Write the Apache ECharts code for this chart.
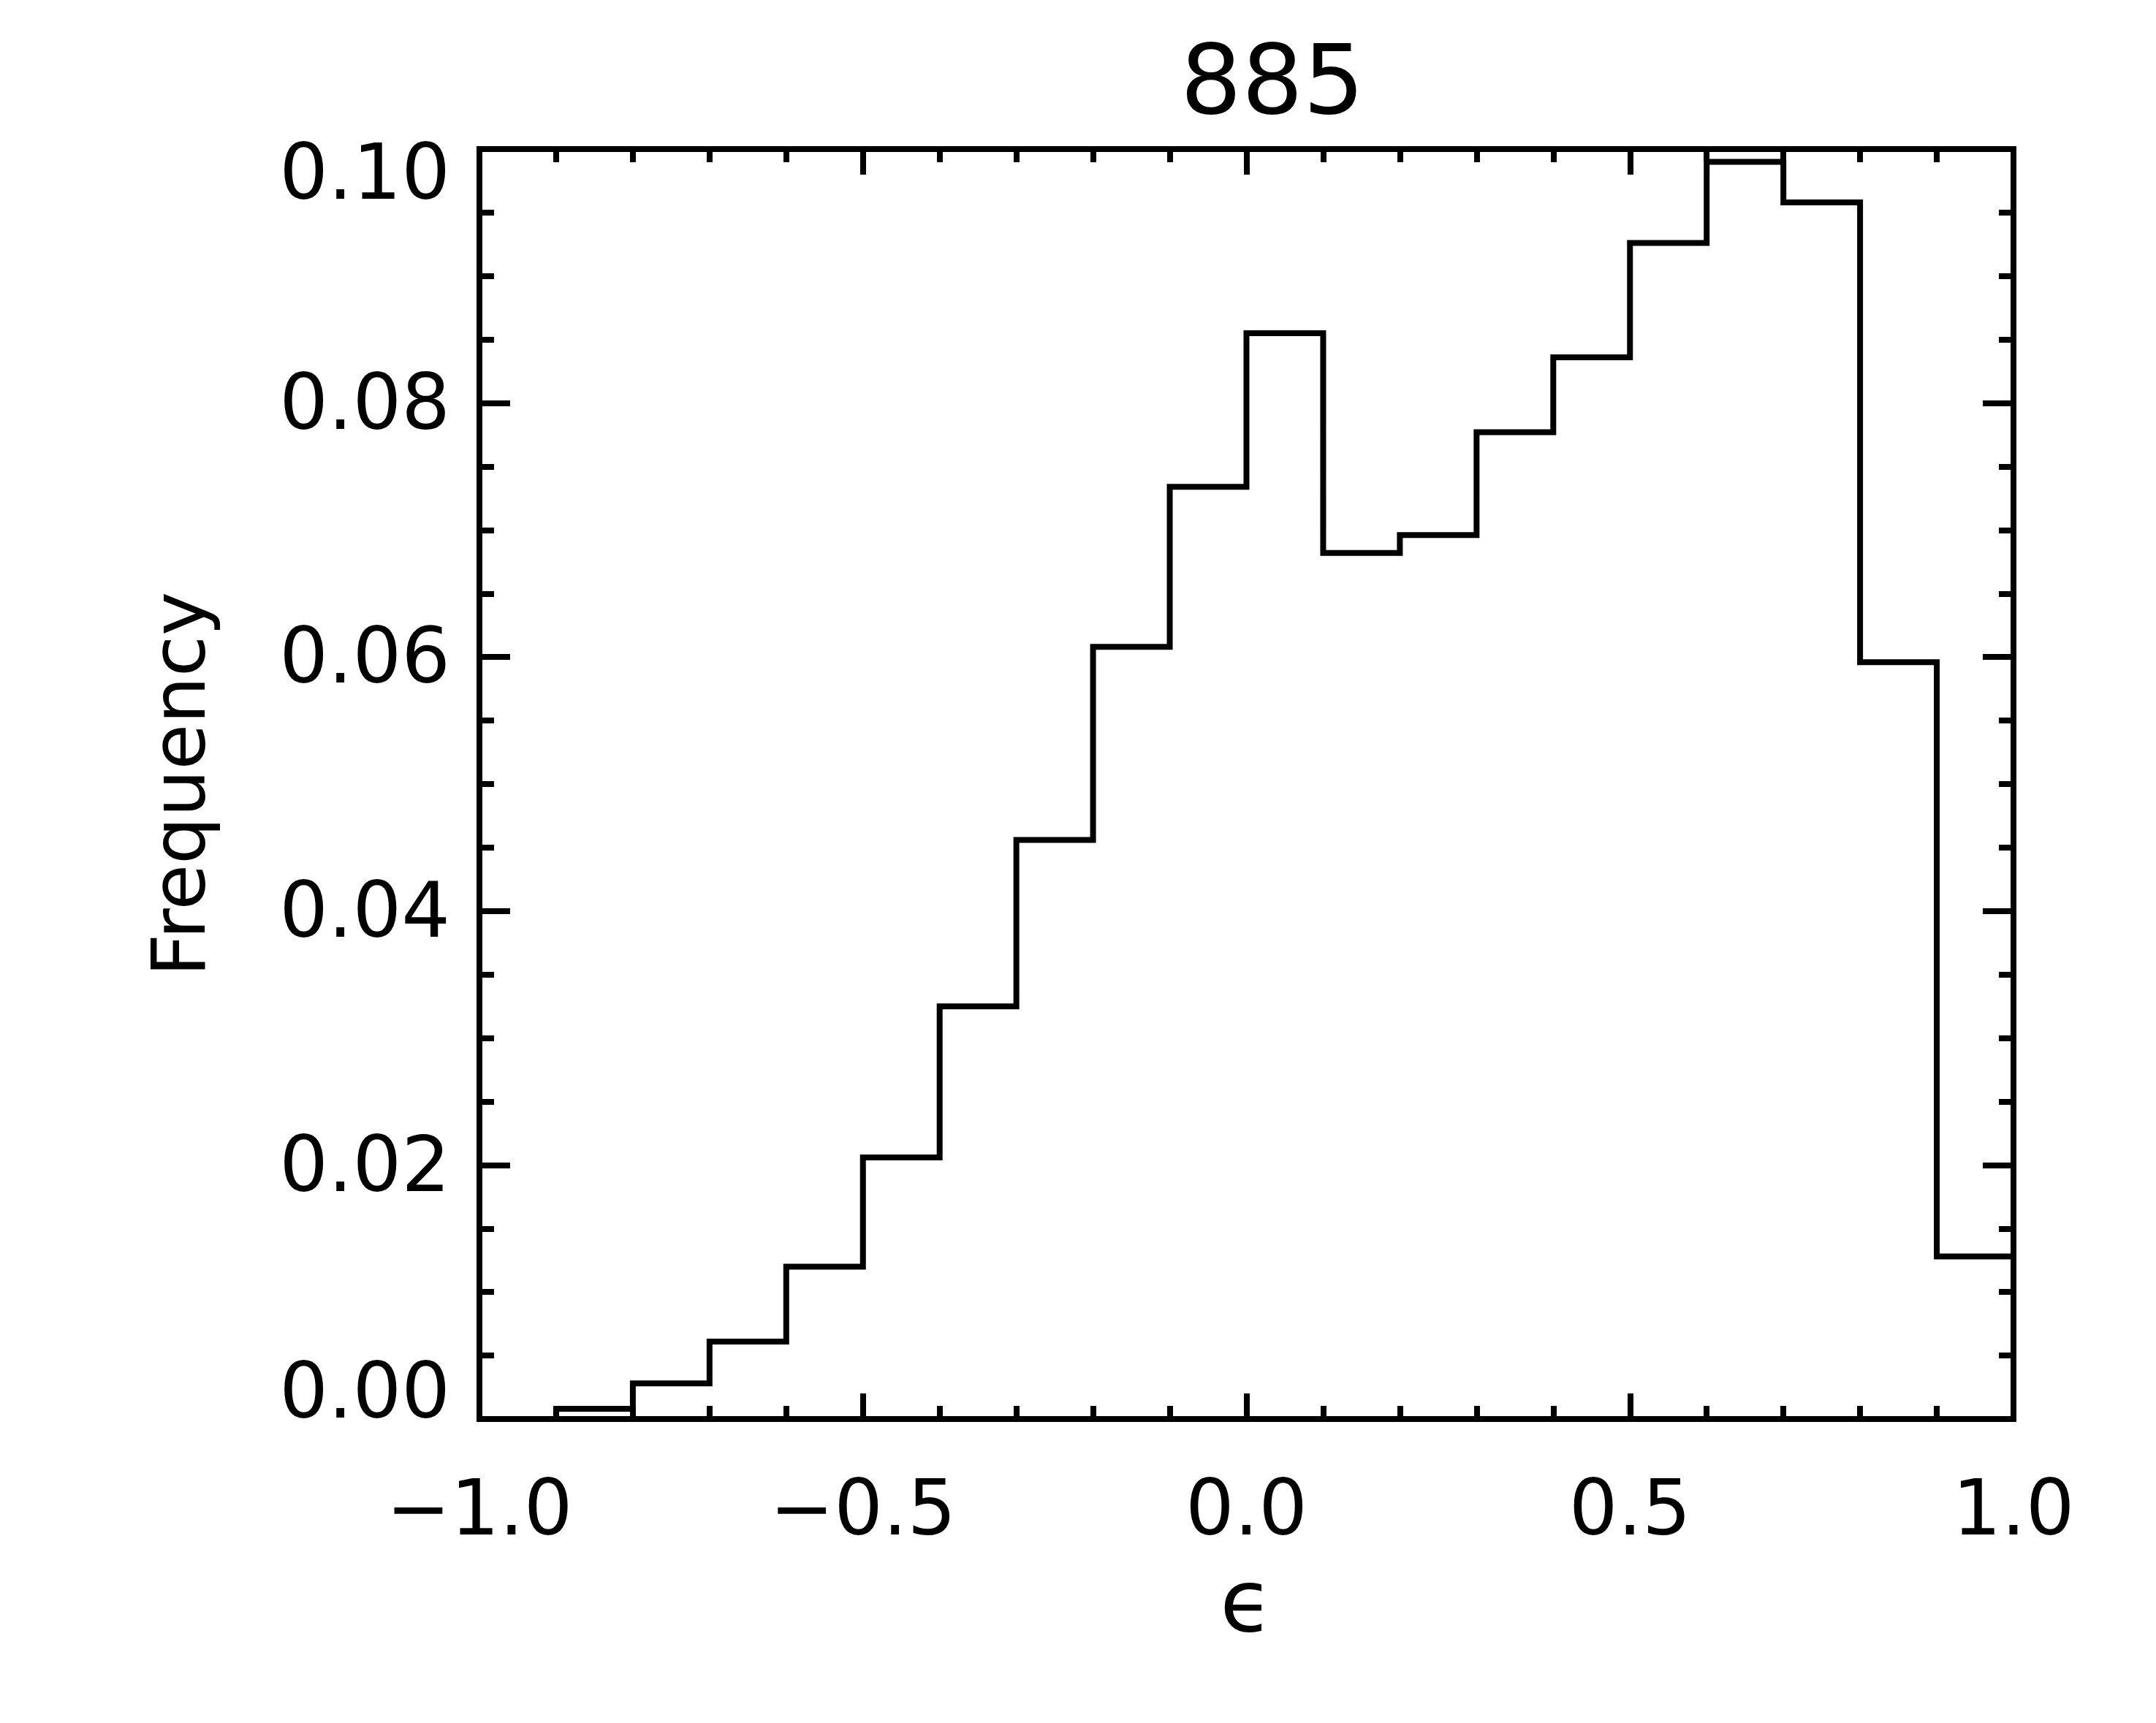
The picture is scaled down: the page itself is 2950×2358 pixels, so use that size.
<!DOCTYPE html>
<html>
<head>
<meta charset="utf-8">
<script src="https://cdn.jsdelivr.net/npm/echarts@6/dist/echarts.min.js"></script>
<style>
html,body{margin:0;padding:0;background:#fff;}
#chart{width:2950px;height:2358px;}
</style>
</head>
<body>
<div id="chart"></div>
<script>
// Histogram of epsilon, bin edges and frequencies
const binEdges = [-1.0, -0.9, -0.8, -0.7, -0.6, -0.5, -0.4, -0.3, -0.2, -0.1,
                  0.0, 0.1, 0.2, 0.3, 0.4, 0.5, 0.6, 0.7, 0.8, 0.9, 1.0];
const frequencies = [0.0000, 0.0008, 0.0028, 0.0061, 0.0120, 0.0206, 0.0325, 0.0456, 0.0608, 0.0734,
                     0.0855, 0.0682, 0.0696, 0.0777, 0.0836, 0.0926, 0.0990, 0.0958, 0.0596, 0.0128];
const titleText = '885';
const xName = '\u03F5';
const yName = 'Frequency';

// step points: each bin left edge with its value, plus the final right edge
const stepData = frequencies.map((v, i) => [binEdges[i], v]);
stepData.push([binEdges[binEdges.length - 1], frequencies[frequencies.length - 1]]);

const FONT = 'DejaVu Sans';
const frameW = 8;
const chart = echarts.init(document.getElementById('chart'), null, {renderer: 'canvas'});

const labelBase = {fontFamily: FONT, fontSize: 105, color: '#000'};

const xBase = {
  type: 'value', min: -1.0, max: 1.0, interval: 0.5,
  splitLine: {show: false},
  axisLine: {show: true, onZero: false, lineStyle: {color: '#000', width: frameW, cap: 'square'}},
  axisTick: {show: true, inside: true, length: 35, lineStyle: {color: '#000', width: 8}},
  minorTick: {show: true, splitNumber: 5, length: 18, lineStyle: {color: '#000', width: 8}},
  minorSplitLine: {show: false}
};
const yBase = {
  type: 'value', min: 0, max: 0.1, interval: 0.02,
  splitLine: {show: false},
  axisLine: {show: true, onZero: false, lineStyle: {color: '#000', width: frameW, cap: 'square'}},
  axisTick: {show: true, inside: true, length: 42, lineStyle: {color: '#000', width: 8}},
  minorTick: {show: true, splitNumber: 4, length: 20, lineStyle: {color: '#000', width: 8}},
  minorSplitLine: {show: false}
};

const option = {
  backgroundColor: '#fff',
  animation: false,
  title: {
    text: titleText,
    left: 1736,
    textAlign: 'center',
    top: 50,
    textStyle: {fontFamily: FONT, fontSize: 132, fontWeight: 'normal', color: '#000'}
  },
  grid: {left: 656, right: 195, top: 204, bottom: 416, containLabel: false},
  xAxis: [
    Object.assign({}, xBase, {
      position: 'bottom',
      name: xName, nameLocation: 'middle', nameGap: 200,
      nameTextStyle: {fontFamily: FONT, fontSize: 118, color: '#000'},
      axisLabel: Object.assign({
        show: true, margin: 78,
        formatter: v => v.toFixed(1).replace('-', '\u2212')
      }, labelBase)
    }),
    Object.assign({}, xBase, {position: 'top', axisLabel: {show: false}})
  ],
  yAxis: [
    Object.assign({}, yBase, {
      position: 'left',
      name: yName, nameLocation: 'middle', nameGap: 352,
      nameTextStyle: {fontFamily: FONT, fontSize: 102, color: '#000'},
      axisLabel: Object.assign({
        show: true, margin: 40,
        formatter: v => {
          const s = v.toFixed(2);
          if (v <= 1e-9) return '{lo|' + s + '}';
          if (v >= 0.1 - 1e-9) return '{hi|' + s + '}';
          return '{mid|' + s + '}';
        },
        rich: {
          lo: Object.assign({padding: [0, 0, 58, 0]}, labelBase),
          hi: Object.assign({padding: [82, 0, 0, 0]}, labelBase),
          mid: Object.assign({padding: [16, 0, 0, 0]}, labelBase)
        }
      }, labelBase)
    }),
    Object.assign({}, yBase, {position: 'right', axisLabel: {show: false}})
  ],
  series: [{
    type: 'line',
    xAxisIndex: 0, yAxisIndex: 0,
    step: 'end',
    data: stepData,
    showSymbol: false,
    symbol: 'none',
    clip: false,
    lineStyle: {color: '#000', width: 8, join: 'miter', cap: 'butt'},
    z: 3
  }]
};
chart.setOption(option);
</script>
</body>
</html>
